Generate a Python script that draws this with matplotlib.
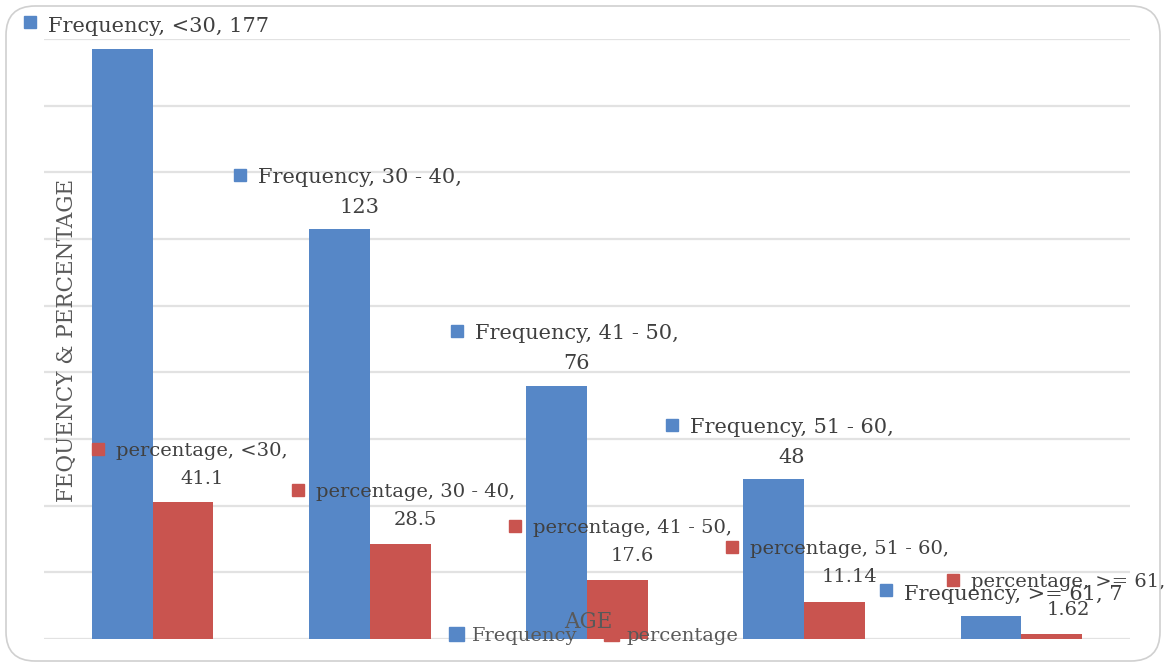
import matplotlib
matplotlib.use("Agg")
import matplotlib.pyplot as plt
from matplotlib.patches import FancyBboxPatch, Patch
import numpy as np

# Data
categories = ["<30", "30 - 40", "41 - 50", "51 - 60", ">= 61"]
frequency = [177, 123, 76, 48, 7]
percentage = [41.1, 28.5, 17.6, 11.14, 1.62]
freq_labels = ["177", "123", "76", "48", "7"]
pct_labels = ["41.1", "28.5", "17.6", "11.14", "1.62"]

# Label anchor points (marker centre) in data coordinates, and whether the
# value wraps onto a second line
freq_label_pos = [(-0.564, 185.1), (0.402, 139.2), (1.401, 92.4), (2.391, 64.2), (3.377, 14.7)]
freq_wrap = [False, True, True, True, False]
pct_label_pos = [(-0.251, 57.0), (0.669, 44.7), (1.668, 33.9), (2.668, 27.6), (3.685, 17.7)]
pct_wrap = [True, True, True, True, True]

BLUE = "#5687C7"
RED = "#C9544F"
GRID = "#E2E2E2"
TEXT = "#404040"
TITLE = "#595959"
FONT = "DejaVu Serif"
FS_FREQ = 15
FS_PCT = 14

W, H = 1164, 667
fig = plt.figure(figsize=(W / 100, H / 100), dpi=100)
fig.patch.set_facecolor("white")

# Rounded chart border
border = FancyBboxPatch((6 / W, 6 / H), (W - 10) / W, (H - 12) / H,
                        boxstyle="round,pad=0,rounding_size=0.025",
                        transform=fig.transFigure, facecolor="none",
                        edgecolor="#D0D0D0", linewidth=1.2, mutation_aspect=W / H)
fig.patches.append(border)

ax = fig.add_axes([44 / W, (H - 639) / H, 1086 / W, 600 / H])
x = np.arange(len(categories))
bw = 0.28
ax.bar(x - bw / 2, frequency, width=bw, color=BLUE, zorder=2)
ax.bar(x + bw / 2, percentage, width=bw, color=RED, zorder=2)

ax.set_xlim(-0.5, len(categories) - 0.5)
ax.set_ylim(0, 180)
ax.set_yticks(np.arange(0, 181, 20))
ax.yaxis.grid(True, color=GRID, linewidth=1.6, zorder=0)
ax.tick_params(left=False, bottom=False, labelleft=False, labelbottom=False)
for s in ax.spines.values():
    s.set_visible(False)


def draw_label(pos, wrap, series, cat, val, color, size):
    mx, my = pos
    ax.plot([mx], [my], marker="s", markersize=8.5, color=color,
            linestyle="none", clip_on=False, zorder=5)
    if wrap:
        txt = f"{series}, {cat},\n{val}"
        offset, va = (13, 5), "top"
    else:
        txt = f"{series}, {cat}, {val}"
        offset, va = (13, -3), "center"
    ax.annotate(txt, xy=(mx, my), xytext=offset, textcoords="offset points",
                ha="left", va=va, multialignment="center", fontsize=size,
                family=FONT, color=TEXT, zorder=6, annotation_clip=False,
                linespacing=1.72)


for i, c in enumerate(categories):
    draw_label(freq_label_pos[i], freq_wrap[i], "Frequency", c, freq_labels[i], BLUE, FS_FREQ)
for i, c in enumerate(categories):
    draw_label(pct_label_pos[i], pct_wrap[i], "percentage", c, pct_labels[i], RED, FS_PCT)

# Axis titles
fig.text(67 / W, 1 - 340 / H, "FEQUENCY & PERCENTAGE", rotation=90,
         ha="center", va="center", fontsize=15.5, family=FONT, color=TITLE)
fig.text(588 / W, 1 - 622 / H, "AGE", ha="center", va="center",
         fontsize=15.5, family=FONT, color=TITLE)

# Legend
handles = [Patch(color=BLUE), Patch(color=RED)]
leg = ax.legend(handles, ["Frequency", "percentage"], loc="center",
                bbox_to_anchor=(594 / W, 1 - 636 / H), bbox_transform=fig.transFigure,
                ncol=2, frameon=False, handlelength=0.75, handleheight=0.75,
                handletextpad=0.4, columnspacing=1.4,
                prop={"family": FONT, "size": 14})
for t in leg.get_texts():
    t.set_color(TITLE)

fig.savefig("out.png", dpi=100)
